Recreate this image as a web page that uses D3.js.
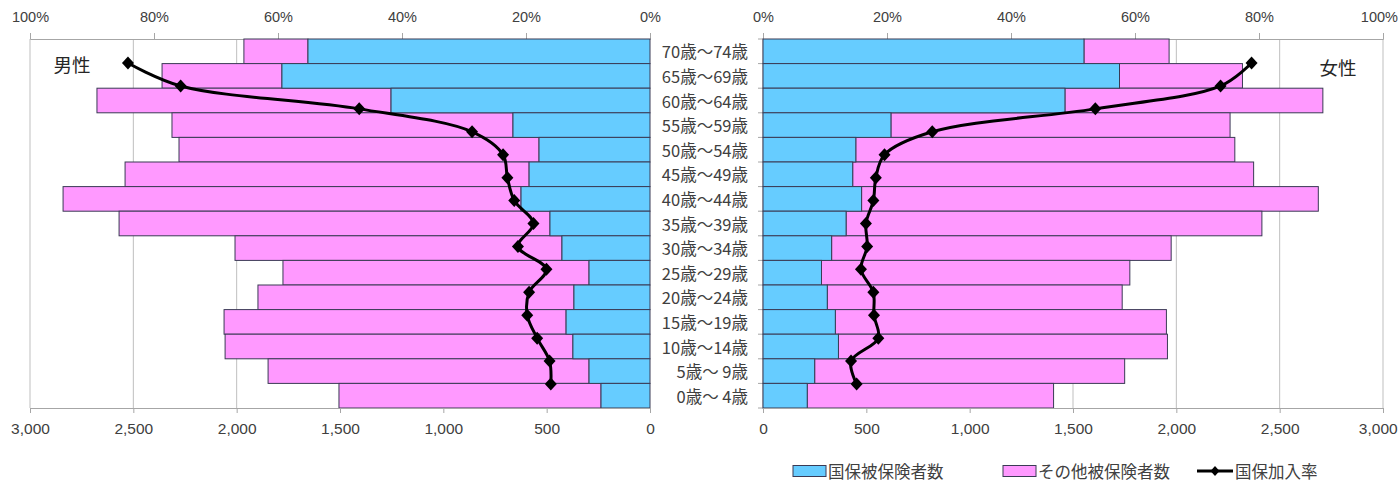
<!DOCTYPE html>
<html lang="ja">
<head>
<meta charset="utf-8">
<script src="https://cdn.jsdelivr.net/npm/d3@7"></script>
<style>
  html, body { margin: 0; padding: 0; background: #fff; }
  svg { display: block; font-family: "Noto Sans CJK JP", "Noto Sans", sans-serif; }
</style>
</head>
<body>
<svg id="chart" width="1400" height="483"></svg>
<script>
// Age groups, drawn top to bottom
const ageGroups = ["70歳～74歳", "65歳～69歳", "60歳～64歳", "55歳～59歳", "50歳～54歳",
  "45歳～49歳", "40歳～44歳", "35歳～39歳", "30歳～34歳", "25歳～29歳",
  "20歳～24歳", "15歳～19歳", "10歳～14歳", "5歳～ 9歳", "0歳～ 4歳"];

// Male: national health insurance insured / other insured (persons)
const maleKokuho = [1655, 1781, 1253, 663, 537, 585, 624, 484, 426, 295, 368, 406, 373, 295, 237];
const maleOther = [310, 580, 1423, 1650, 1742, 1955, 2216, 2085, 1582, 1481, 1529, 1655, 1683, 1553, 1268];
// Male enrollment rate (%)
const maleRate = [84.2, 75.7, 46.9, 28.7, 23.7, 23.0, 21.9, 18.8, 21.3, 16.7, 19.5, 19.8, 18.2, 16.2, 16.0];

// Female: national health insurance insured / other insured (persons)
const femaleKokuho = [1553, 1725, 1461, 619, 449, 434, 477, 402, 332, 283, 311, 350, 365, 250, 214];
const femaleOther = [412, 595, 1248, 1641, 1834, 1940, 2210, 2012, 1643, 1492, 1427, 1602, 1592, 1500, 1192];
// Female enrollment rate (%)
const femaleRate = [78.8, 73.8, 53.6, 27.3, 19.6, 18.2, 17.8, 16.6, 16.8, 15.8, 17.8, 17.9, 18.6, 14.2, 15.1];

const countTicks = [0, 500, 1000, 1500, 2000, 2500, 3000];
const pctTicks = [0, 20, 40, 60, 80, 100];
const seriesNames = ["国保被保険者数", "その他被保険者数", "国保加入率"];

const colors = { kokuho: "#66CCFF", other: "#FF99FF", line: "#000000", edge: "#3a3a55",
  grid: "#BFBFBF", axis: "#A6A6A6", text: "#404040" };

const svg = d3.select("#chart");
const plotTop = 39, plotBottom = 408;
const svgWidth = 1400;

// bars fill the full band; the rate line sits on its own point scale
const y = d3.scaleBand().domain(ageGroups).range([plotTop, plotBottom]).padding(0);
const yLine = d3.scalePoint().domain(ageGroups).range([63, 384]);

const panels = [
  { name: "男性", kokuho: maleKokuho, other: maleOther, rate: maleRate,
    x: d3.scaleLinear().domain([0, 3000]).range([650, 30]),
    p: d3.scaleLinear().domain([0, 100]).range([650, 30]),
    title: { x: 72, y: 64 }, catTicks: false },
  { name: "女性", kokuho: femaleKokuho, other: femaleOther, rate: femaleRate,
    x: d3.scaleLinear().domain([0, 3000]).range([763, 1383]),
    p: d3.scaleLinear().domain([0, 100]).range([763, 1383]),
    title: { x: 1338, y: 67 }, catTicks: true }
];

const diamond = "M0,-6.5L6,0L0,6.5L-6,0Z";
const smallDiamond = "M0,-5L4.5,0L0,5L-4.5,0Z";

// keep tick labels inside the drawing's right edge
function fitLabels(axisG) {
  axisG.selectAll(".tick").each(function () {
    const t = d3.select(this).select("text");
    const box = t.node().getBBox();
    const m = /translate\(([-\d.]+)/.exec(d3.select(this).attr("transform"));
    const tx = m ? +m[1] : 0;
    const overflow = tx + box.x + box.width - (svgWidth - 2);
    if (overflow > 0) t.attr("x", -overflow);
  });
}

panels.forEach(pn => {
  const g = svg.append("g");

  // vertical gridlines at count ticks
  g.append("g").selectAll("line").data(countTicks.filter(d => d > 0)).join("line")
    .attr("x1", d => pn.x(d)).attr("x2", d => pn.x(d))
    .attr("y1", plotTop).attr("y2", plotBottom)
    .attr("stroke", colors.grid).attr("stroke-width", 1);

  // top percent axis
  const at = g.append("g").attr("transform", `translate(0,${plotTop})`)
    .call(d3.axisTop(pn.p).tickValues(pctTicks).tickFormat(d => d + "%").tickSize(6).tickPadding(11));
  at.select(".domain").attr("stroke", colors.axis);
  at.selectAll(".tick line").attr("stroke", colors.axis);
  at.selectAll("text").attr("font-size", 14.5).attr("fill", colors.text).attr("font-family", "inherit");
  fitLabels(at);

  // category axis with outward ticks at band edges
  if (pn.catTicks) {
    const x0 = pn.x(0);
    g.append("line").attr("x1", x0).attr("x2", x0).attr("y1", plotTop).attr("y2", plotBottom)
      .attr("stroke", colors.axis);
    const edges = ageGroups.map(a => y(a)).concat([plotBottom]);
    g.append("g").selectAll("line").data(edges).join("line")
      .attr("x1", x0 - 5).attr("x2", x0).attr("y1", d => d).attr("y2", d => d)
      .attr("stroke", colors.axis);
  }

  // stacked bars
  const rows = ageGroups.map((a, i) => ({ a, k: pn.kokuho[i], o: pn.other[i] }));
  const seg = (v0, v1) => ({ x: Math.min(pn.x(v0), pn.x(v1)), w: Math.abs(pn.x(v1) - pn.x(v0)) });

  g.append("g").selectAll("rect").data(rows).join("rect")
    .attr("x", d => seg(d.k, d.k + d.o).x)
    .attr("width", d => seg(d.k, d.k + d.o).w)
    .attr("y", d => y(d.a)).attr("height", y.bandwidth())
    .attr("fill", colors.other).attr("stroke", colors.edge).attr("stroke-width", 1);

  g.append("g").selectAll("rect").data(rows).join("rect")
    .attr("x", d => seg(0, d.k).x)
    .attr("width", d => seg(0, d.k).w)
    .attr("y", d => y(d.a)).attr("height", y.bandwidth())
    .attr("fill", colors.kokuho).attr("stroke", colors.edge).attr("stroke-width", 1);

  // bottom count axis
  const ax = g.append("g").attr("transform", `translate(0,${plotBottom})`)
    .call(d3.axisBottom(pn.x).tickValues(countTicks).tickFormat(d3.format(",")).tickSize(5).tickPadding(10));
  ax.select(".domain").attr("stroke", colors.axis);
  ax.selectAll(".tick line").attr("stroke", colors.axis);
  ax.selectAll("text").attr("font-size", 15.5).attr("fill", colors.text).attr("font-family", "inherit");
  fitLabels(ax);

  // enrollment rate line
  const pts = ageGroups.map((a, i) => [pn.p(pn.rate[i]), yLine(a)]);
  g.append("path").datum(pts)
    .attr("d", d3.line().curve(d3.curveCatmullRom.alpha(0.5)))
    .attr("fill", "none").attr("stroke", colors.line).attr("stroke-width", 3)
    .attr("stroke-linejoin", "round");
  g.append("g").selectAll("path").data(pts).join("path")
    .attr("d", diamond)
    .attr("transform", d => `translate(${d[0]},${d[1]})`)
    .attr("fill", colors.line);

  // panel title
  g.append("text").attr("x", pn.title.x).attr("y", pn.title.y)
    .attr("text-anchor", "middle").attr("dominant-baseline", "central")
    .attr("font-size", 18.5).attr("fill", "#262626").text(pn.name);
});

// age labels in the centre gap
svg.append("g").selectAll("text").data(ageGroups).join("text")
  .attr("x", 748).attr("y", d => y(d) + y.bandwidth() / 2)
  .attr("text-anchor", "end").attr("dominant-baseline", "central")
  .attr("font-size", 16.5).attr("fill", colors.text)
  .style("white-space", "pre")
  .text(d => d);

// legend
const lg = svg.append("g").attr("transform", "translate(0,471)");
const legendItems = [
  { x: 793, type: "rect", fill: colors.kokuho, label: seriesNames[0] },
  { x: 1003, type: "rect", fill: colors.other, label: seriesNames[1] },
  { x: 1197, type: "line", fill: colors.line, label: seriesNames[2] }
];
legendItems.forEach(it => {
  if (it.type === "rect") {
    lg.append("rect").attr("x", it.x).attr("y", -5.5).attr("width", 33).attr("height", 11)
      .attr("fill", it.fill).attr("stroke", colors.edge).attr("stroke-width", 1);
  } else {
    lg.append("line").attr("x1", it.x).attr("x2", it.x + 36).attr("y1", 0).attr("y2", 0)
      .attr("stroke", it.fill).attr("stroke-width", 3);
    lg.append("path").attr("d", smallDiamond).attr("transform", `translate(${it.x + 18},0)`).attr("fill", it.fill);
  }
  lg.append("text").attr("x", it.x + (it.type === "rect" ? 35 : 38)).attr("y", 0)
    .attr("dominant-baseline", "central").attr("font-size", 16.5).attr("fill", colors.text)
    .text(it.label);
});
</script>
</body>
</html>
